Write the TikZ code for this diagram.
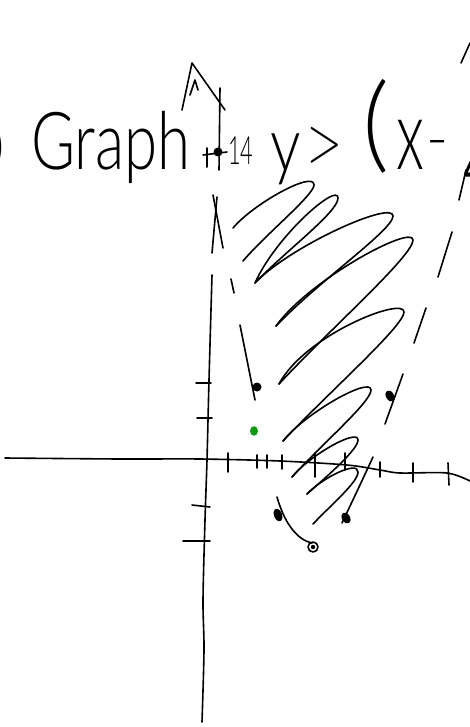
\documentclass[tikz,border=0pt]{standalone}
\usepackage{fontspec}
\usepackage{graphicx}
\IfFontExistsTF{Lato Light}{\newfontfamily\handfont{Lato Light}}{%
  \IfFontExistsTF{Fira Sans Light}{\newfontfamily\handfont{Fira Sans Light}}{%
    \IfFontExistsTF{DejaVu Sans ExtraLight}{\newfontfamily\handfont{DejaVu Sans ExtraLight}}{%
      \newcommand\handfont{\sffamily}}}}
\definecolor{pengreen}{HTML}{119A11}

\begin{document}
\begin{tikzpicture}[x=1pt,y=-1pt,
  pen/.style={line width=1.6pt,line cap=round,line join=round},
  ink/.style={font=\handfont,inner sep=0pt,text=black},
  blob/.style={fill=black}
]
\useasboundingbox (0,0) rectangle (470,727);
\clip (0,0) rectangle (470,727);
\fill[white] (0,0) rectangle (470,727);

% heading
\node[ink,anchor=east] (prevnum) at (5,148) {\fontsize{60}{60}\selectfont )};
\node[ink,anchor=base west] (graph) at (31,170) {\fontsize{80}{80}\selectfont\scalebox{0.75}[1]{Graph}};
\node[ink,anchor=base west] (ticklabel) at (228,165) {\fontsize{39}{39}\selectfont\scalebox{0.56}[1]{14}};
\node[ink,anchor=base west] (ylet) at (270,172) {\fontsize{76}{76}\selectfont\scalebox{0.8}[1]{y}};
\node[ink,font=\sffamily,anchor=base west] (gtsign) at (307,162) {\fontsize{65}{65}\selectfont\scalebox{0.7}[1]{>}};
\node[ink,anchor=base west] (lparen) at (362,160) {\fontsize{105}{105}\selectfont (};
\node[ink,anchor=base west] (xlet) at (396,170) {\fontsize{99}{99}\selectfont\scalebox{0.6}[1]{x}};
\node[ink,anchor=base west] (minus) at (426,160) {\fontsize{60}{60}\selectfont -};
\node[ink,anchor=base west] (four) at (463,200) {\fontsize{110}{110}\selectfont\scalebox{0.6}[1]{4}};
\draw[pen] (461,63) -- (470,43);

% axes
\draw[pen] plot[smooth] coordinates {(5,458) (120,459) (200,459) (280,461) (347,465) (380,470) (400,473) (447,473) (470,481)};
\draw[pen] plot[smooth] coordinates {(212,275) (209,380) (207,460) (205,520) (203,600) (204,650) (202,722)};
\draw[pen] (220,88) -- (219,170);
\draw[pen] (182,110) -- (192,63) -- (225,110);
\draw[pen] (190,95) -- (195,80) -- (198,90);
\draw[pen] (203,155) -- (227,152);
\draw[pen] (207,148) -- (207,167);
\fill[blob] (218,152) circle (4.5);

% ticks
\draw[pen] (196,383) -- (211,383);
\draw[pen] (197,418) -- (212,418);
\draw[pen] (192,505) -- (210,507);
\draw[pen] (183,541) -- (210,541);
\draw[pen] (228,453) -- (228,472);
\draw[pen] (257,455) -- (257,468);
\draw[pen] (267,455) -- (267,468);
\draw[pen] (282,455) -- (282,469);
\draw[pen] (315,453) -- (315,477);
\draw[pen] (345,453) -- (345,470);
\draw[pen] (380,462) -- (380,477);
\draw[pen] (413,463) -- (413,482);
\draw[pen] (448,463) -- (449,485);

% dashed boundary, left
\draw[pen] (213,195) -- (223,248);
\draw[pen] (217,197) -- (212,253);
\draw[pen] (231,279) -- (234,293);
\draw[pen] (240,325) -- (255,400);
\fill[blob] (257,387) circle (4.5);
% dashed boundary, right
\draw[pen] (466,170) -- (459,200);
\draw[pen] (452,232) -- (438,277);
\draw[pen] (426,308) -- (414,343);
\draw[pen] (403,374) -- (385,424);
\fill[blob,rotate around={-60:(390,396)}] (390,396) ellipse [x radius=6,y radius=4];
\draw[pen] (373,457) .. controls (360,485) .. (342,523);
\fill[blob,rotate around={-60:(346,518)}] (346,518) ellipse [x radius=6,y radius=4];
% vertex
\draw[pen] (277,497) .. controls (285,525) and (298,540) .. (312,543);
\fill[blob,rotate around={-70:(278,515)}] (278,515) ellipse [x radius=6.5,y radius=4];
\draw[pen] (313,547) circle (5);
\fill[blob] (313,547) circle (2.2);

% test point
\fill[pengreen] (254,431) ellipse [x radius=4,y radius=4.8];

% shading
\draw[pen] (233,228) .. controls (253,204) and (314,170) .. (314,185) .. controls (314,195) and (265,235) .. (243,261);
\draw[pen] (255,283) .. controls (276,236) and (338,182) .. (338,198) .. controls (338,212) and (288,249) .. (257,281);
\draw[pen] (255,283) .. controls (290,246) and (393,200) .. (393,216) .. controls (393,230) and (320,280) .. (276,326);
\draw[pen] (276,326) .. controls (310,279) and (413,224) .. (413,240) .. controls (413,256) and (330,329) .. (279,384);
\draw[pen] (279,384) .. controls (305,335) and (404,296) .. (404,312) .. controls (404,326) and (329,392) .. (283,441);
\draw[pen] (283,441) .. controls (305,413) and (371,376) .. (371,390) .. controls (371,402) and (322,444) .. (292,477);
\draw[pen] (292,477) .. controls (310,455) and (358,428) .. (358,440) .. controls (358,450) and (325,478) .. (307,494);
\draw[pen] (307,494) .. controls (322,478) and (358,460) .. (358,472) .. controls (358,482) and (333,503) .. (313,524);
\end{tikzpicture}
\end{document}
